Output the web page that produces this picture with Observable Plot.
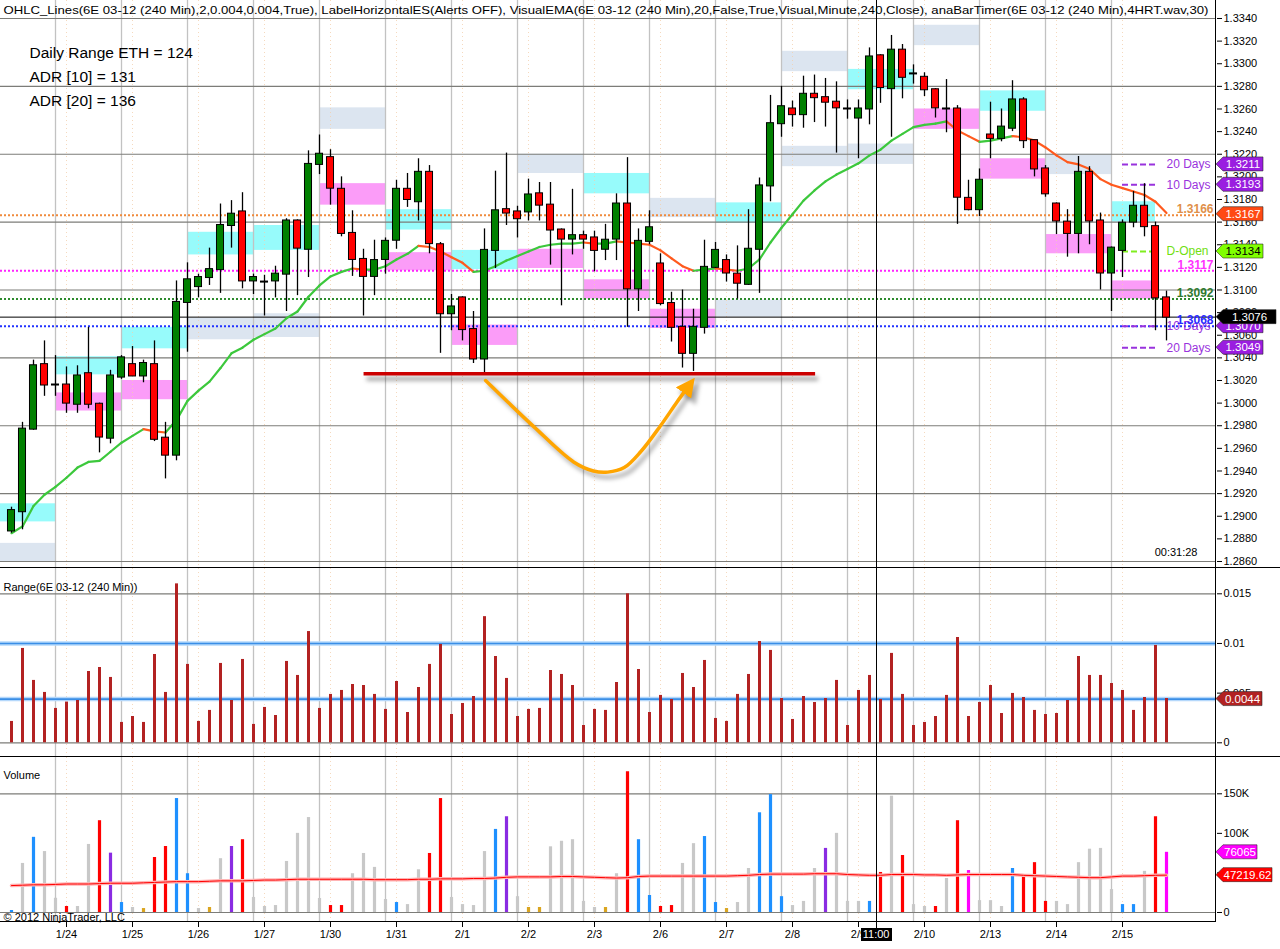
<!DOCTYPE html>
<html>
<head>
<meta charset="utf-8">
<script src="https://cdn.jsdelivr.net/npm/d3@7"></script>
<script src="https://cdn.jsdelivr.net/npm/@observablehq/plot@0.6"></script>
<style>
html,body{margin:0;padding:0;background:#fff;}
#chart{position:relative;width:1280px;height:949px;overflow:hidden;background:#fff;font-family:"Liberation Sans",Arial,sans-serif;}
#chart > svg{position:absolute;left:0;}
.sep{position:absolute;background:#000;}
.xtag{position:absolute;background:#000;color:#fff;font:11px "Liberation Sans",Arial,sans-serif;text-align:center;line-height:13px;height:13px;}
</style>
</head>
<body>
<div id="chart"></div>
<script>
// ================= DATA =================
const opens = [1.2887,1.2904,1.2977,1.3034,1.3016,1.3016,1.2999,1.3026,1.2999,1.2969,
1.3023,1.3034,1.3024,1.3034,1.2969,1.2954,1.3089,1.3103,1.3111,1.3118,
1.3157,1.3169,1.3108,1.3107,1.3108,1.3114,1.3161,1.3136,1.3211,1.3217,
1.3189,1.3150,1.3127,1.3112,1.3127,1.3144,1.3189,1.3178,1.3204,1.3140,
1.3079,1.3093,1.3065,1.3039,1.3135,1.3171,1.3169,1.3169,1.3185,1.3175,
1.3153,1.3145,1.3148,1.3146,1.3136,1.3145,1.3176,1.3101,1.3143,1.3123,
1.3088,1.3067,1.3044,1.3067,1.3120,1.3126,1.3114,1.3105,1.3136,1.3192,
1.3247,1.3260,1.3255,1.3273,1.3270,1.3266,1.3260,1.3252,1.3260,1.3307,
1.3278,1.3312,1.3291,1.3288,1.3277,1.3260,1.3260,1.3181,1.3171,1.3237,
1.3234,1.3243,1.3268,1.3232,1.3207,1.3176,1.3160,1.3150,1.3204,1.3161,
1.3115,1.3135,1.3160,1.3174,1.3156,1.3093];
const highs = [1.2908,1.2983,1.3038,1.3055,1.3042,1.3032,1.3033,1.3067,1.3000,1.3029,
1.3042,1.3050,1.3038,1.3055,1.2983,1.3108,1.3124,1.3114,1.3137,1.3176,
1.3179,1.3186,1.3114,1.3113,1.3121,1.3163,1.3162,1.3223,1.3237,1.3224,
1.3200,1.3170,1.3136,1.3144,1.3146,1.3197,1.3203,1.3216,1.3210,1.3142,
1.3096,1.3094,1.3081,1.3154,1.3205,1.3221,1.3174,1.3198,1.3195,1.3195,
1.3154,1.3189,1.3152,1.3152,1.3158,1.3185,1.3217,1.3154,1.3170,1.3132,
1.3098,1.3100,1.3083,1.3144,1.3142,1.3131,1.3139,1.3171,1.3199,1.3272,
1.3280,1.3267,1.3289,1.3290,1.3287,1.3284,1.3268,1.3268,1.3314,1.3308,
1.3325,1.3317,1.3299,1.3292,1.3278,1.3286,1.3263,1.3197,1.3207,1.3266,
1.3260,1.3285,1.3270,1.3232,1.3210,1.3177,1.3171,1.3218,1.3209,1.3168,
1.3138,1.3162,1.3187,1.3194,1.3160,1.3099];
const lows = [1.2885,1.2888,1.2976,1.3006,1.3006,1.2991,1.2991,1.2995,1.2956,1.2964,
1.3021,1.3024,1.3018,1.2966,1.2933,1.2949,1.3045,1.3093,1.3104,1.3097,
1.3137,1.3101,1.3096,1.3077,1.3093,1.3081,1.3095,1.3111,1.3202,1.3175,
1.3147,1.3112,1.3077,1.3095,1.3114,1.3136,1.3173,1.3161,1.3132,1.3044,
1.3064,1.3055,1.3035,1.3026,1.3119,1.3157,1.3146,1.3161,1.3161,1.3122,
1.3086,1.3131,1.3136,1.3116,1.3126,1.3126,1.3067,1.3081,1.3140,1.3086,
1.3054,1.3031,1.3028,1.3061,1.3119,1.3107,1.3092,1.3104,1.3097,1.3178,
1.3235,1.3244,1.3243,1.3248,1.3244,1.3221,1.3251,1.3216,1.3246,1.3265,
1.3235,1.3269,1.3282,1.3271,1.3252,1.3239,1.3158,1.3170,1.3165,1.3216,
1.3231,1.3240,1.3225,1.3200,1.3182,1.3149,1.3129,1.3132,1.3140,1.3100,
1.3081,1.3111,1.3155,1.3147,1.3064,1.3055];
const closes = [1.2905,1.2977,1.3033,1.3016,1.3016,1.3000,1.3024,1.2999,1.2970,1.3024,
1.3040,1.3024,1.3035,1.2968,1.2954,1.3089,1.3109,1.3111,1.3118,1.3157,
1.3167,1.3108,1.3111,1.3107,1.3114,1.3161,1.3137,1.3211,1.3220,1.3190,
1.3150,1.3127,1.3112,1.3126,1.3143,1.3189,1.3180,1.3204,1.3141,1.3079,
1.3085,1.3065,1.3039,1.3135,1.3170,1.3168,1.3163,1.3184,1.3175,1.3153,
1.3145,1.3148,1.3145,1.3135,1.3144,1.3176,1.3101,1.3143,1.3155,1.3088,
1.3067,1.3044,1.3067,1.3120,1.3135,1.3115,1.3106,1.3136,1.3192,1.3247,
1.3262,1.3255,1.3273,1.3270,1.3266,1.3261,1.3260,1.3260,1.3306,1.3279,
1.3312,1.3288,1.3291,1.3277,1.3261,1.3260,1.3182,1.3171,1.3197,1.3234,
1.3244,1.3268,1.3232,1.3207,1.3185,1.3161,1.3150,1.3204,1.3161,1.3115,
1.3137,1.3159,1.3174,1.3156,1.3093,1.3076];
// 20-period EMA as drawn
const ema = [1.2885,1.2891,1.2909,1.2919,1.2926,1.2934,1.2943,1.2948,1.2949,1.2957,
1.2965,1.2971,1.2977,1.2975,1.2974,1.2985,1.3002,1.3011,1.3019,1.3031,
1.3044,1.3049,1.3056,1.3061,1.3066,1.3075,1.3081,1.3094,1.3104,1.3112,
1.3116,1.3119,1.3118,1.3118,1.3121,1.3127,1.3132,1.3139,1.3138,1.3134,
1.3129,1.3124,1.3116,1.3117,1.3121,1.3126,1.3130,1.3134,1.3138,1.3140,
1.3141,1.3141,1.3142,1.3141,1.3141,1.3143,1.3142,1.3141,1.3140,1.3135,
1.3128,1.3121,1.3117,1.3118,1.3119,1.3118,1.3117,1.3119,1.3127,1.3142,
1.3155,1.3167,1.3179,1.3188,1.3196,1.3202,1.3207,1.3212,1.3219,1.3224,
1.3232,1.3238,1.3244,1.3246,1.3247,1.3249,1.3241,1.3236,1.3231,1.3232,
1.3234,1.3236,1.3235,1.3232,1.3226,1.3219,1.3213,1.3211,1.3207,1.3198,
1.3193,1.3190,1.3187,1.3184,1.3178,1.3168];
// Range panel
const ranges = [0.00215,0.0095,0.00628,0.00507,0.00346,0.0041,0.00426,0.00718,0.00758,0.00658,
0.00205,0.00265,0.00205,0.00889,0.00507,0.0160,0.00789,0.00215,0.00326,0.00799,
0.00426,0.00839,0.00185,0.00356,0.00275,0.00819,0.00678,0.0112,0.00346,0.00487,
0.00527,0.00587,0.00577,0.00487,0.00336,0.00617,0.00305,0.00557,0.00789,0.0099,
0.00285,0.00396,0.00466,0.0127,0.00869,0.00648,0.00265,0.00336,0.00346,0.00728,
0.00688,0.00577,0.00174,0.00336,0.00326,0.00607,0.0150,0.00738,0.00305,0.00477,
0.00436,0.00698,0.00557,0.00829,0.00245,0.00215,0.00487,0.00688,0.0102,0.0093,
0.00446,0.00235,0.00466,0.00406,0.00446,0.00628,0.00174,0.00527,0.00678,0.00436,
0.0090,0.00487,0.00174,0.00205,0.00265,0.00477,0.0106,0.00265,0.00406,0.00577,
0.00295,0.00497,0.00456,0.00326,0.00285,0.00295,0.00426,0.00869,0.00678,0.00678,
0.00597,0.00527,0.00326,0.00456,0.0098,0.00446];
const rangeRefs = [0.01, 0.0044];
// Volume panel
const volumes = [2500,62000,95000,77000,18000,7600,7600,86000,116000,75000,
12600,6300,5000,69500,83400,144000,49000,5000,6300,68000,
83400,92000,19000,7600,8800,64500,100000,120000,17700,8800,
8800,49000,74600,57000,16400,12600,10000,54000,74600,144000,
19000,10000,8800,77000,105000,121000,20000,6300,6300,83000,
90000,92000,14000,6300,6300,49000,178000,92000,21500,7600,
8800,62000,87000,96000,12600,5000,12600,55600,126000,149000,
20000,8800,14000,55600,81000,100000,14000,14000,14000,50600,
147000,72000,10000,7600,7600,43000,116000,53000,15000,15000,
7600,55600,48000,63000,14000,14000,10000,63000,80000,81000,
29000,10000,10000,52000,121000,76065];
const volumeKinds = ("bgbggrggrp" + "bgyrrbbgyg" + "prgggggggr" + "rggggbggrr" + "ggggbpgyyg" +
  "ggggygrbbr" + "rggbbyggbb" + "bgggpgggbr" + "grggrgrmgg" + "gbrrrggggg" + "gbbgrm").split("");
const volumeAvg = [34000,34500,35000,35000,35500,36000,36000,36000,36500,37000,
37000,37000,37500,38000,38500,39000,39000,39000,39500,40000,
40000,40000,40500,41000,41000,41500,42000,42000,42000,42000,
42000,42000,42000,41500,41500,41500,41500,42000,42000,42500,
42500,42500,43000,43000,43500,44500,45000,45000,45000,45000,
45500,45500,45000,44500,44000,43500,44000,45500,46000,46000,
46000,46000,46000,46000,46000,46000,46500,47000,48000,48500,
48500,48500,48500,49000,49000,49000,48000,47500,47000,47000,
48000,48000,48000,47500,47500,47000,47500,48000,48000,48000,
48000,48000,47000,46500,46000,45500,45000,44500,44000,44000,
45000,46000,46000,46500,47000,47219.62];
// Daily zones (bar index start/end, price low/high, kind)
const zoneStart = [-1,-1,4,4,10,10,16,16,22,22,28,28,34,34,40,40,46,46,52,52,58,58,64,64,70,70,76,76,82,82,88,88,94,94,100,100];
const zoneEnd   = [4,4,10,10,16,16,22,22,28,28,34,34,40,40,46,46,52,52,58,58,64,64,70,70,76,76,82,82,88,88,94,94,100,100,104,104];
const zoneLow  = [1.2895,1.2860,1.3025,1.2993,1.3048,1.3003,1.3131,1.3056,1.3135,1.3058,1.3242,1.3175,1.3153,1.3117,1.3118,1.3051,1.3203,1.3119,1.3185,1.3092,1.3164,1.3066,1.3159,1.3076,1.3293,1.3209,1.3277,1.3211,1.3316,1.3242,1.3258,1.3198,1.3202,1.3132,1.3160,1.3092];
const zoneHigh = [1.2911,1.2876,1.3041,1.3009,1.3067,1.3020,1.3151,1.3075,1.3157,1.3079,1.3261,1.3194,1.3171,1.3133,1.3135,1.3069,1.3220,1.3136,1.3203,1.3109,1.3181,1.3083,1.3177,1.3091,1.3311,1.3227,1.3295,1.3229,1.3334,1.3260,1.3276,1.3216,1.3220,1.3149,1.3178,1.3108];
const zoneKind = ["up","gray","up","dn","up","dn","up","gray","up","gray","gray","dn","up","dn","up","dn","gray","dn","up","dn","gray","dn","up","gray","gray","gray","up","gray","gray","dn","up","dn","gray","dn","up","dn"];
// Axis ticks / labels
const priceTicks = [1.2860,1.2880,1.2900,1.2920,1.2940,1.2960,1.2980,1.3000,1.3020,1.3040,1.3060,1.3080,1.3100,1.3120,1.3140,1.3160,1.3180,1.3200,1.3220,1.3240,1.3260,1.3280,1.3300,1.3320,1.3340];
const priceGrid = [1.2860,1.2920,1.2980,1.3040,1.3100,1.3160,1.3220,1.3280,1.3340];
const rangeTicks = [0, 0.005, 0.01, 0.015];
const rangeGrid = [0, 0.015];
const volumeTicks = [0, 50000, 100000, 150000];
const volumeGrid = [0, 150000];
const dateLabels = ["1/24","1/25","1/26","1/27","1/30","1/31","2/1","2/2","2/3","2/6","2/7","2/8","2/9","2/10","2/13","2/14","2/15"];
const dateBars = [5,11,17,23,29,35,41,47,53,59,65,71,77,83,89,95,101];
const sessionBars = [4,10,16,22,28,34,40,46,52,58,64,70,76,82,88,94,100];
// Horizontal level lines (previous-day OHLC lines)
const levelValues = [1.3166, 1.3117, 1.3092, 1.3068];
const levelKeys = ["L1","L2","L3","L4"];
const lastPrice = 1.3076;
// 10/20 day range lines
const dayLineValues = [1.3211, 1.3193, 1.3068, 1.3049];
const dayLineTexts = ["20 Days","10 Days","10 Days","20 Days"];
const dOpenValue = 1.3134;
const shortLineBars = [101, 104];
const labelBar = 105;
// Right-axis tags
const priceTagValues = [1.3211, 1.3193, 1.3167, 1.3134, 1.3068, 1.3076, 1.3049];
const priceTagTexts  = ["1.3211","1.3193","1.3167","1.3134","1.3070","1.3076","1.3049"];
const priceTagKinds  = ["days","days","ema","open","days","last","days"];
const rangeTagValues = [0.0044];
const rangeTagTexts = ["0.0044"];
const volumeTagValues = [76065, 47219.62];
const volumeTagTexts = ["76065", "47219.62"];
const volumeTagKinds = ["vol","avg"];
// Annotations
const supportLevel = 1.3026;
const supportBars = [32.05, 73.1];
const arrowX = [43.1, 47.5, 51.1, 52.9, 54.2, 55.7, 57.2, 59.0, 60.5, 61.4];
const arrowY = [1.3020, 1.2979, 1.2948, 1.2940, 1.2939, 1.2943, 1.2957, 1.2980, 1.3001, 1.3013];
const crossBar = 78.6;
const crossLabel = "11:00";
const titleText = "OHLC_Lines(6E 03-12 (240 Min),2,0.004,0.004,True), LabelHorizontalES(Alerts OFF), VisualEMA(6E 03-12 (240 Min),20,False,True,Visual,Minute,240,Close), anaBarTimer(6E 03-12 (240 Min),4HRT.wav,30)";
const infoLines = ["Daily Range ETH = 124", "ADR [10] = 131", "ADR [20] = 136"];
const timerText = "00:31:28";
const rangeTitle = "Range(6E 03-12 (240 Min))";
const volumeTitle = "Volume";
const copyright = "\u00A9 2012 NinjaTrader, LLC";

// ================= STYLES =================
const FONT = "'Liberation Sans', Arial, sans-serif";
const zoneFill = {up: "#97fbfb", dn: "#fb9cf8", gray: "#dce5f0"};
const levelColor = {L1: "#f08a3c", L2: "#ff22ff", L3: "#2e8b2e", L4: "#2233ff"};
const levelTextColor = {L1: "#e0904a", L2: "#ff33ff", L3: "#2f7a2f", L4: "#2a2aff"};
const volColor = {b: "#1e90ff", r: "#ff0000", p: "#8a2be2", g: "#c8c8c8", y: "#daa520", m: "#ff00ff"};
const tagStyle = {
  days: {fill: "#9a1de0", color: "#fff", w: 47},
  ema:  {fill: "#ff4a14", color: "#fff", w: 47},
  open: {fill: "#80ff00", color: "#000", w: 47},
  last: {fill: "#000000", color: "#fff", w: 60},
  range:{fill: "#b22222", color: "#fff", w: 46},
  vol:  {fill: "#ff00ff", color: "#fff", w: 41},
  avg:  {fill: "#ff0000", color: "#fff", w: 56}
};
const PURPLE = "#9933dd";
const ORANGE = "#ffa500";
const SUPPORT_RED = "#cc0000";
const AXIS_X = 1216;
const xDomain = [-1, 109.545];
const baseStyle = {fontFamily: FONT, fontSize: "11px", color: "#000", background: "transparent"};

// ================= BUILD =================
const chart = document.getElementById("chart");
const bars = opens.map((o, i) => ({i, o, h: highs[i], l: lows[i], c: closes[i]}));
const zones = zoneStart.map((s, k) => ({s, e: zoneEnd[k], lo: zoneLow[k], hi: zoneHigh[k], k: zoneKind[k]}));
const emaSegs = ema.slice(1).map((v, k) => ({x1: k, y1: ema[k], x2: k + 1, y2: v, up: v >= ema[k]}));
const levels = levelValues.map((v, k) => ({v, k: levelKeys[k]}));
const dayLines = dayLineValues.map((v, k) => ({v, t: dayLineTexts[k]}));
const arrowPts = arrowX.map((x, k) => ({x, y: arrowY[k]}));
const labelByBar = new Map(dateBars.map((b, k) => [b, dateLabels[k]]));

const verticalMarks = () => [
  Plot.ruleX(dateBars, {stroke: "#f2cfae", strokeDasharray: "1,3", strokeOpacity: 0.8}),
  Plot.ruleX(sessionBars, {stroke: "#c2c2c2", strokeWidth: 1.3})
];

// ---- price panel ----
const pricePlot = Plot.plot({
  width: 1280, height: 568, marginLeft: 0, marginRight: 64, marginTop: 0, marginBottom: 0,
  x: {domain: xDomain, axis: null},
  y: {domain: [1.28538, 1.33559], axis: "right", ticks: priceTicks, tickFormat: d => d.toFixed(4), tickSize: 5, tickPadding: 2, label: null},
  color: {type: "identity"},
  style: baseStyle,
  marks: [
    Plot.rect(zones, {x1: "s", x2: "e", y1: "lo", y2: "hi", fill: d => zoneFill[d.k]}),
    ...verticalMarks(),
    Plot.ruleY(priceGrid, {stroke: "#7c7c78", strokeWidth: 1.2}),
    Plot.ruleY(levels, {y: "v", stroke: d => levelColor[d.k], strokeWidth: 2, strokeDasharray: "2,2"}),
    Plot.ruleY([lastPrice], {stroke: "#000", strokeWidth: 1}),
    Plot.ruleY(dayLines, {y: "v", x1: () => shortLineBars[0], x2: () => shortLineBars[1], stroke: PURPLE, strokeWidth: 2, strokeDasharray: "6,3"}),
    Plot.ruleY([dOpenValue], {x1: () => shortLineBars[0], x2: () => shortLineBars[1], stroke: "#80ee20", strokeWidth: 2, strokeDasharray: "6,3"}),
    Plot.link(emaSegs, {x1: "x1", y1: "y1", x2: "x2", y2: "y2", stroke: d => d.up ? "#3cc83c" : "#ff5a1e", strokeWidth: 2.2, strokeLinecap: "round"}),
    Plot.ruleX(bars, {x: "i", y1: "l", y2: "h", stroke: "#000", strokeWidth: 1.3}),
    Plot.rect(bars, {x1: d => d.i - 0.32, x2: d => d.i + 0.32, y1: "o", y2: "c", insetTop: -0.5, insetBottom: -0.5,
      fill: d => d.c >= d.o ? "#008000" : "#ff0000", stroke: "#000", strokeWidth: 1}),
    // shadows (offset copies, blurred afterwards)
    Plot.ruleY([supportLevel], {x1: () => supportBars[0], x2: () => supportBars[1], stroke: "#000", strokeOpacity: 0.351, strokeWidth: 4, dx: 3, dy: 5}),
    Plot.line(arrowPts, {x: "x", y: "y", curve: "catmull-rom", stroke: "#000", strokeOpacity: 0.301, strokeWidth: 4, dx: 4, dy: 5}),
    // annotations
    Plot.ruleY([supportLevel], {x1: () => supportBars[0], x2: () => supportBars[1], stroke: SUPPORT_RED, strokeWidth: 3.5}),
    Plot.line(arrowPts, {x: "x", y: "y", curve: "catmull-rom", stroke: ORANGE, strokeWidth: 3.5}),
    Plot.text([titleText], {text: d => d, frameAnchor: "top-left", dx: 3, dy: 10, textAnchor: "start", lineAnchor: "middle", fontSize: 11, fill: "#000"}),
    ...infoLines.map((t, k) => Plot.text([t], {text: d => d, frameAnchor: "top-left", dx: 29, dy: 53 + 24 * k, textAnchor: "start", lineAnchor: "middle", fontSize: 15.5, fill: "#000"})),
    Plot.text([timerText], {text: d => d, frameAnchor: "bottom-right", dx: -19, dy: -16, textAnchor: "end", lineAnchor: "middle", fontSize: 11, fill: "#000"}),
    Plot.text(dayLines, {x: () => labelBar, y: "v", text: "t", textAnchor: "start", lineAnchor: "middle", fill: PURPLE, fontSize: 12}),
    Plot.text([dOpenValue], {x: () => labelBar, y: d => d, text: () => "D-Open", textAnchor: "start", lineAnchor: "middle", fill: "#70e010", fontSize: 12}),
    Plot.text(levels, {y: "v", text: d => d.v.toFixed(4), frameAnchor: "right", dx: -3, dy: -6, textAnchor: "end", lineAnchor: "middle", fill: d => levelTextColor[d.k], fontSize: 12, fontWeight: "bold"})
  ]
});

// ---- range panel ----
const rangePlot = Plot.plot({
  width: 1280, height: 189, marginLeft: 0, marginRight: 64, marginTop: 0, marginBottom: 0,
  x: {domain: xDomain, axis: null},
  y: {domain: [-0.00148, 0.017547], axis: "right", ticks: rangeTicks, tickFormat: d => d === 0 ? "0" : String(d), tickSize: 5, tickPadding: 2, label: null},
  color: {type: "identity"},
  style: baseStyle,
  marks: [
    ...verticalMarks(),
    Plot.ruleY(rangeGrid, {stroke: "#7c7c78", strokeWidth: 1.2}),
    Plot.ruleY(rangeRefs, {stroke: "#b5d8fb", strokeWidth: 4.5}),
    Plot.ruleY(rangeRefs, {stroke: "#3a8ee6", strokeWidth: 1.6}),
    Plot.ruleX(ranges.map((v, i) => ({i, v})), {x: "i", y1: () => 0, y2: "v", stroke: "#b22222", strokeWidth: 3}),
    Plot.text([rangeTitle], {text: d => d, frameAnchor: "top-left", dx: 3, dy: 19, textAnchor: "start", lineAnchor: "middle", fontSize: 11, fill: "#000"})
  ]
});

// ---- volume panel ----
const volumePlot = Plot.plot({
  width: 1280, height: 192, marginLeft: 0, marginRight: 64, marginTop: 0, marginBottom: 27,
  x: {domain: xDomain, ticks: dateBars, tickFormat: d => labelByBar.get(d), tickSize: 5, tickPadding: 3, label: null},
  y: {domain: [-12637, 195872], axis: "right", ticks: volumeTicks, tickFormat: d => d === 0 ? "0" : (d / 1000) + "K", tickSize: 5, tickPadding: 2, label: null},
  color: {type: "identity"},
  style: baseStyle,
  marks: [
    ...verticalMarks(),
    Plot.ruleY(volumeGrid, {stroke: "#7c7c78", strokeWidth: 1.2}),
    Plot.ruleX(volumes.map((v, i) => ({i, v, k: volumeKinds[i]})), {x: "i", y1: () => 0, y2: "v", stroke: d => volColor[d.k], strokeWidth: 3.2}),
    Plot.line(volumeAvg.map((v, i) => ({i, v})), {x: "i", y: "v", stroke: "#ffb4b4", strokeWidth: 3.5}),
    Plot.line(volumeAvg.map((v, i) => ({i, v})), {x: "i", y: "v", stroke: "#ff0000", strokeWidth: 1}),
    Plot.text([volumeTitle], {text: d => d, frameAnchor: "top-left", dx: 3, dy: 18, textAnchor: "start", lineAnchor: "middle", fontSize: 11, fill: "#000"}),
    Plot.text([copyright], {text: d => d, frameAnchor: "bottom-left", dx: 3, dy: -5, textAnchor: "start", lineAnchor: "middle", fontSize: 11, fill: "#000"})
  ]
});

pricePlot.style.top = "0px";
rangePlot.style.top = "568px";
volumePlot.style.top = "757px";
chart.append(pricePlot, rangePlot, volumePlot);

// blur filter for shadows + filled arrowhead markers
try {
  const psvg = d3.select(pricePlot);
  const defs = psvg.insert("defs", ":first-child");
  const flt = defs.append("filter").attr("id", "sblur").attr("filterUnits", "userSpaceOnUse")
    .attr("x", 0).attr("y", 0).attr("width", 1280).attr("height", 568);
  flt.append("feGaussianBlur").attr("stdDeviation", 2);
  const addMarker = (id, fill, op) => defs.append("marker").attr("id", id).attr("viewBox", "0 0 10 10")
    .attr("refX", 3).attr("refY", 5).attr("markerWidth", 5.4).attr("markerHeight", 5.4).attr("orient", "auto")
    .append("path").attr("d", "M0,0L10,5L0,10Z").attr("fill", fill).attr("fill-opacity", op);
  addMarker("ahead", ORANGE, 1);
  addMarker("ahead-sh", "#000", 0.3);
  psvg.selectAll('g[stroke-opacity="0.351"], g[stroke-opacity="0.301"]').attr("filter", "url(#sblur)");
  psvg.selectAll('g[stroke="' + ORANGE + '"] path').attr("marker-end", "url(#ahead)");
  psvg.selectAll('g[stroke-opacity="0.301"] path').attr("marker-end", "url(#ahead-sh)");
  psvg.selectAll("text").filter(function () { return this.textContent === titleText; })
    .attr("textLength", 1205).attr("lengthAdjust", "spacingAndGlyphs");
} catch (e) { console.error(e); }

function scaleFn(plot, name) {
  const s = plot.scale(name);
  return s.apply ? (v => s.apply(v)) : d3.scaleLinear(s.domain, s.range);
}

function addTags(plot, values, texts, kinds) {
  const y = scaleFn(plot, "y");
  const g = d3.select(plot).append("g").attr("font-family", FONT).attr("font-size", 11.5);
  values.forEach((v, k) => {
    const st = tagStyle[kinds[k]];
    const yc = y(v), x0 = AXIS_X, x1 = x0 + 7, x2 = x0 + st.w, h = 7;
    g.append("path")
      .attr("d", `M${x0},${yc}L${x1},${yc - h}L${x2},${yc - h}L${x2},${yc + h}L${x1},${yc + h}Z`)
      .attr("fill", st.fill).attr("stroke", "#222").attr("stroke-opacity", 0.7).attr("stroke-width", 0.8);
    g.append("text").attr("x", (x1 + x2) / 2).attr("y", yc).attr("dy", "0.36em")
      .attr("text-anchor", "middle").attr("fill", st.color).text(texts[k]);
  });
}
addTags(pricePlot, priceTagValues, priceTagTexts, priceTagKinds);
addTags(rangePlot, rangeTagValues, rangeTagTexts, ["range"]);
addTags(volumePlot, volumeTagValues, volumeTagTexts, volumeTagKinds);

// panel borders
function sep(left, top, width, height) {
  const d = document.createElement("div");
  d.className = "sep";
  Object.assign(d.style, {left: left + "px", top: top + "px", width: width + "px", height: height + "px"});
  chart.append(d);
}
sep(0, 567, 1280, 1);
sep(0, 756, 1280, 1);
sep(0, 921, AXIS_X, 1);
sep(AXIS_X - 1, 0, 1, 922);

// crosshair through the library's x scale
const xs = scaleFn(pricePlot, "x")(crossBar);
sep(Math.round(xs), 0, 1, 928);
const tag = document.createElement("div");
tag.className = "xtag";
tag.textContent = crossLabel;
Object.assign(tag.style, {left: (xs - 15) + "px", top: "928px", width: "31px"});
chart.append(tag);
</script>
</body>
</html>
